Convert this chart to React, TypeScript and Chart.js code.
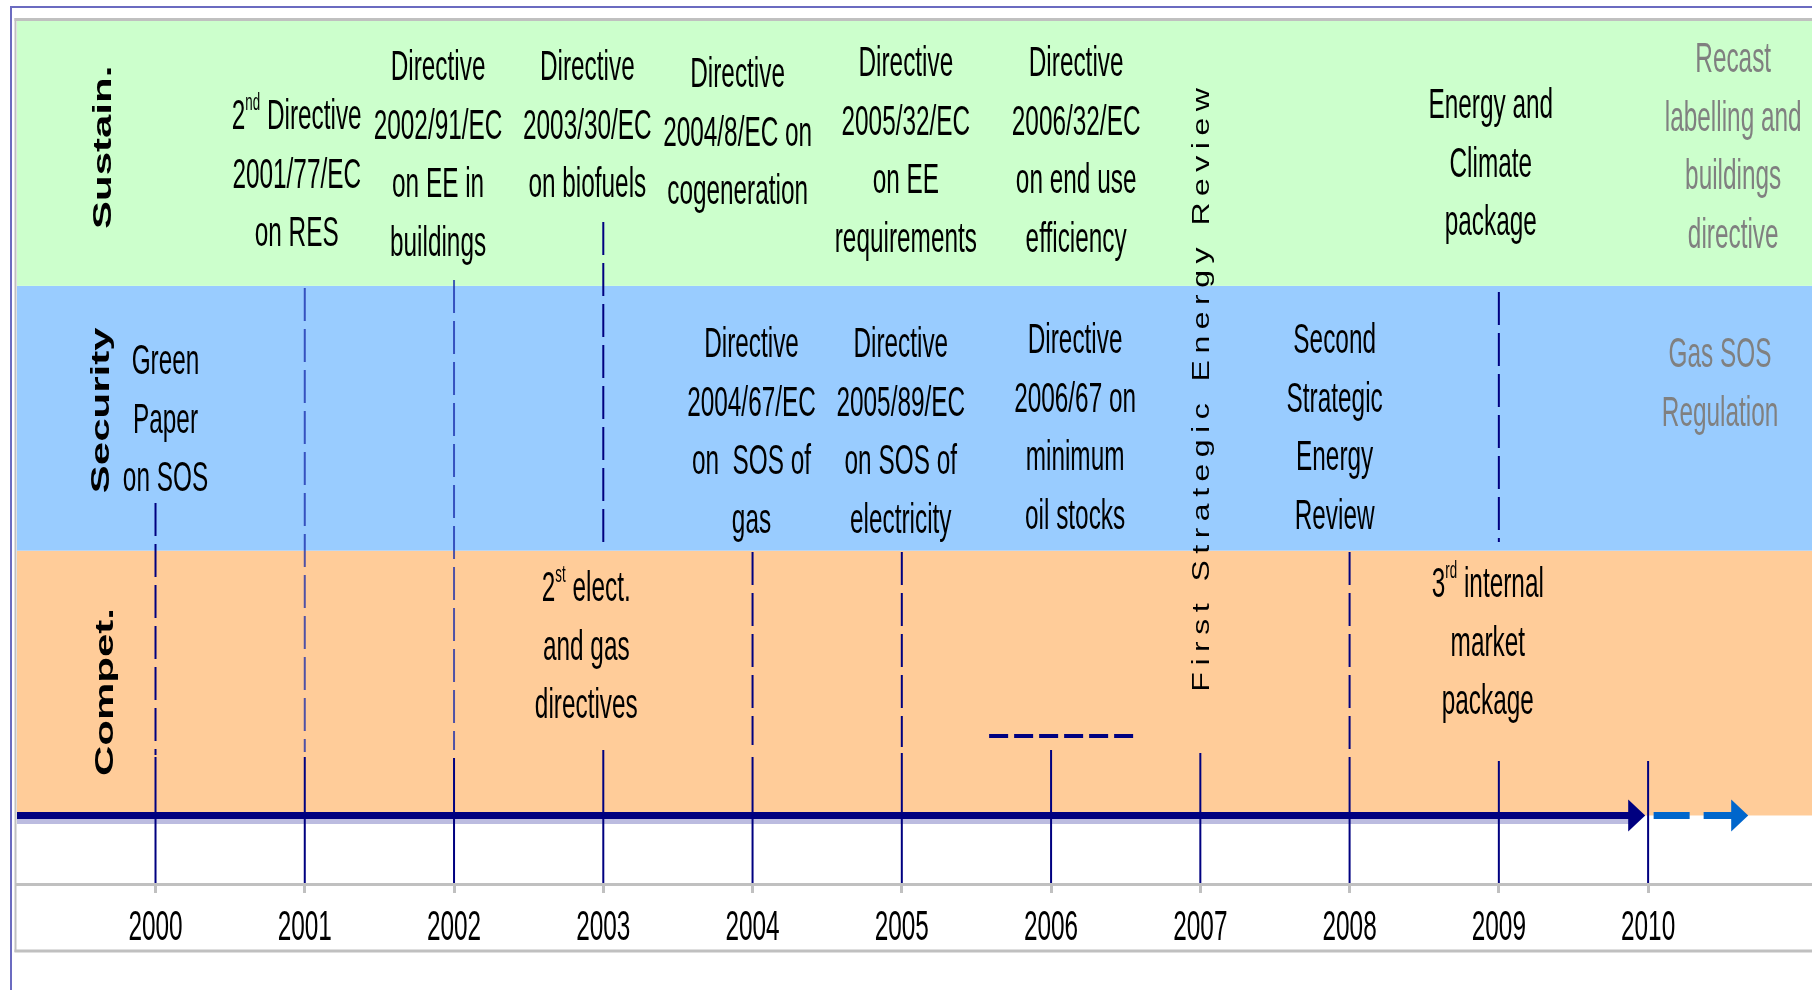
import React, { useEffect, useRef } from "react";
import { Chart, registerables } from "chart.js";

Chart.register(...registerables);

// ---------------- data ----------------
const years = [2000, 2001, 2002, 2003, 2004, 2005, 2006, 2007, 2008, 2009, 2010];
const bandNames = ["Compet.", "Security", "Sustain."]; // bottom to top
const bandColors = ["#ffcc99", "#99ccff", "#ccffcc"];

const sustainYears = [2001, 2002, 2003, 2004, 2005, 2006, 2009, 2010];
const sustainLabels = [
  ["2^{nd} Directive", "2001/77/EC", "on RES"],
  ["Directive", "2002/91/EC", "on EE in", "buildings"],
  ["Directive", "2003/30/EC", "on biofuels"],
  ["Directive", "2004/8/EC on", "cogeneration"],
  ["Directive", "2005/32/EC", "on EE", "requirements"],
  ["Directive", "2006/32/EC", "on end use", "efficiency"],
  ["Energy and", "Climate", "package"],
  ["Recast", "labelling and", "buildings", "directive"],
];
const securityYears = [2000, 2004, 2005, 2006, 2008, 2010];
const securityLabels = [
  ["Green", "Paper", "on SOS"],
  ["Directive", "2004/67/EC", "on  SOS of", "gas"],
  ["Directive", "2005/89/EC", "on SOS of", "electricity"],
  ["Directive", "2006/67 on", "minimum", "oil stocks"],
  ["Second", "Strategic", "Energy", "Review"],
  ["Gas SOS", "Regulation"],
];
const competYears = [2003, 2009];
const competLabels = [
  ["2^{st} elect.", "and gas", "directives"],
  ["3^{rd} internal", "market", "package"],
];
const verticalYear = 2007;
const verticalLabel = "First Strategic Energy Review";
// proposals not yet adopted (drawn in grey)
const plannedLabels = ["Recast", "Gas SOS"];

// event lines: [year, from (band units), to (band units)]
const dashedSegments: [number, number, number][] = [
  [2000, 1.18, 0.228],
  [2001, 1.992, 0.24],
  [2002, 2.022, 0.247],
  [2003, 2.241, 1.016],
  [2004, 0.995, 0.266],
  [2005, 0.995, 0.259],
  [2008, 0.995, 0.228],
  [2009, 1.977, 1.033],
];
const solidSegments: [number, number, number][] = [
  [2000, 0.221, -0.255],
  [2001, 0.221, -0.255],
  [2002, 0.217, -0.255],
  [2003, 0.247, -0.255],
  [2004, 0.221, -0.255],
  [2005, 0.236, -0.255],
  [2006, 0.247, -0.255],
  [2007, 0.236, -0.255],
  [2008, 0.221, -0.255],
  [2009, 0.206, -0.255],
  [2010, 0.206, -0.255],
];
// 2006 bracket: [year, from offset, to offset, level]
const span2006: [number, number, number, number] = [2006, -0.415, 0.563, 0.3];
const axisEnd = 2009.88;
const projection: [number, number] = [2010.037, 2010.57];

// ---------------- layout / style ----------------
const X_MIN = 1999.072;
const X_MAX = 2011.098;
const Y_MIN = -0.2587;
const Y_MAX = 3;
const FONT = '"Liberation Sans", Arial, sans-serif';
const FS = 42;
const SX = 0.58;
const LH = 58.7;
const NAVY = "#000080";

// [x offset from anchor year, first line level]
const sustainPlace = [
  [-0.054, 2.649], [-0.107, 2.834], [-0.107, 2.834], [-0.1, 2.808],
  [0.027, 2.849], [0.168, 2.849], [-0.054, 2.691], [0.57, 2.864],
];
const securityPlace = [
  [0.067, 1.724], [-0.007, 1.788], [-0.007, 1.788], [0.161, 1.803],
  [-0.1, 1.803], [0.482, 1.75],
];
const competPlace = [[-0.114, 0.867], [-0.074, 0.882]];
const bandNamePlace = [[1999.655, 0.466], [1999.628, 1.53], [1999.638, 2.523]];
const verticalPlace = [0, 1.607];
const lightDashYears = [2001, 2002];

function parseRich(s: string) {
  const out: { t: string; sup: boolean }[] = [];
  const re = /\^\{([^}]*)\}/g;
  let last = 0;
  let m: RegExpExecArray | null;
  while ((m = re.exec(s))) {
    if (m.index > last) out.push({ t: s.slice(last, m.index), sup: false });
    out.push({ t: m[1], sup: true });
    last = re.lastIndex;
  }
  if (last < s.length) out.push({ t: s.slice(last), sup: false });
  return out;
}

function drawRich(ctx: CanvasRenderingContext2D, s: string, cx: number, cy: number, color: string) {
  const segs = parseRich(s);
  const main = `${FS}px ${FONT}`;
  const sup = `${Math.round(FS * 0.55)}px ${FONT}`;
  let total = 0;
  const ws = segs.map((g) => {
    ctx.font = g.sup ? sup : main;
    const w = ctx.measureText(g.t).width;
    total += w;
    return w;
  });
  ctx.save();
  ctx.translate(cx, cy + FS * 0.358);
  ctx.scale(SX, 1);
  ctx.fillStyle = color;
  ctx.textAlign = "left";
  ctx.textBaseline = "alphabetic";
  let x = -total / 2;
  segs.forEach((g, i) => {
    ctx.font = g.sup ? sup : main;
    ctx.fillText(g.t, x, g.sup ? -FS * 0.45 : 0);
    x += ws[i];
  });
  ctx.restore();
}

function drawRotated(ctx: CanvasRenderingContext2D, s: string, cx: number, cy: number, font: string, size: number, sx: number, spacing: number) {
  ctx.save();
  ctx.translate(cx, cy);
  ctx.scale(sx, 1);
  ctx.rotate(-Math.PI / 2);
  ctx.font = font;
  (ctx as any).letterSpacing = spacing + "px";
  ctx.fillStyle = "#000";
  ctx.textAlign = "center";
  ctx.textBaseline = "alphabetic";
  ctx.fillText(s, spacing / 2, size * 0.358);
  ctx.restore();
}

const timelinePlugin = {
  id: "timeline",
  beforeDraw(chart: any) {
    const { ctx, chartArea: ca, width, height } = chart;
    const ys = chart.scales.y;
    ctx.save();
    ctx.fillStyle = "#ffffff";
    ctx.fillRect(0, 0, width, height);
    // frame
    ctx.fillStyle = "#6b6bc0";
    ctx.fillRect(10, 6, width - 10, 2);
    ctx.fillRect(10, 6, 2, height - 6);
    ctx.fillStyle = "#c0c0c0";
    ctx.fillRect(14.5, 18, width, 3);
    ctx.fillRect(14.5, 18, 2, 934);
    // bands
    bandColors.forEach((c, i) => {
      const top = ys.getPixelForValue(i + 1);
      const bot = ys.getPixelForValue(i);
      ctx.fillStyle = c;
      ctx.fillRect(ca.left, top, ca.right - ca.left, bot - top);
    });
    ctx.restore();
  },
  beforeDatasetsDraw(chart: any) {
    const { ctx, chartArea: ca } = chart;
    const xs = chart.scales.x;
    const y0 = chart.scales.y.getPixelForValue(0);
    ctx.save();
    ctx.fillStyle = "#bcbce0";
    ctx.fillRect(ca.left, y0 + 3.5, xs.getPixelForValue(axisEnd) - ca.left + 2, 5);
    ctx.restore();
  },
  afterDatasetsDraw(chart: any) {
    const { ctx, chartArea: ca, width } = chart;
    const xs = chart.scales.x;
    const ys = chart.scales.y;
    const y0 = ys.getPixelForValue(0);
    ctx.save();
    // arrow heads
    const head = (base: number, color: string) => {
      const bx = xs.getPixelForValue(base);
      ctx.fillStyle = color;
      ctx.beginPath();
      ctx.moveTo(bx - 2, y0 - 16);
      ctx.lineTo(bx + 15, y0);
      ctx.lineTo(bx - 2, y0 + 16);
      ctx.closePath();
      ctx.fill();
    };
    head(axisEnd, NAVY);
    head(projection[1], "#0066cc");

    // band names
    bandNames.forEach((n, i) => {
      const [bx, by] = bandNamePlace[i];
      drawRotated(ctx, n, xs.getPixelForValue(bx), ys.getPixelForValue(by), `bold ${FS}px ${FONT}`, FS, 0.63, 0);
    });
    // vertical label
    drawRotated(
      ctx,
      verticalLabel,
      xs.getPixelForValue(verticalYear + verticalPlace[0]),
      ys.getPixelForValue(verticalPlace[1]),
      `32px ${FONT}`,
      32,
      0.72,
      6.5
    );

    const groups: [number[], string[][], number[][]][] = [
      [sustainYears, sustainLabels, sustainPlace],
      [securityYears, securityLabels, securityPlace],
      [competYears, competLabels, competPlace],
    ];
    groups.forEach(([yrs, labels, places]) => {
      labels.forEach((lines, i) => {
        const [dx, py] = places[i];
        const cx = xs.getPixelForValue(yrs[i] + dx);
        const cy = ys.getPixelForValue(py);
        const color = plannedLabels.includes(lines[0]) ? "#808080" : "#000000";
        lines.forEach((ln, j) => drawRich(ctx, ln, cx, cy + j * LH, color));
      });
    });

    // year labels
    years.forEach((yr) => drawRich(ctx, String(yr), xs.getPixelForValue(yr), ca.bottom + 41, "#000000"));

    // bottom rule
    ctx.fillStyle = "#c0c0c0";
    ctx.fillRect(14.5, 949.5, width, 3);
    ctx.restore();
  },
};

function lineDs(points: { x: number; y: number }[], color: string, width: number, dash: number[] = []) {
  return {
    type: "line" as const,
    data: points,
    borderColor: color,
    borderWidth: width,
    borderDash: dash,
    borderCapStyle: "butt" as const,
    pointRadius: 0,
    fill: false,
    tension: 0,
  };
}

export default function App() {
  const ref = useRef<HTMLCanvasElement>(null);
  useEffect(() => {
    const datasets: any[] = [];
    dashedSegments.forEach(([yr, a, b]) => {
      const c = lightDashYears.includes(yr) ? "rgba(20,40,170,0.75)" : NAVY;
      datasets.push(lineDs([{ x: yr, y: a }, { x: yr, y: b }], c, 2, [33, 8]));
    });
    solidSegments.forEach(([yr, a, b]) => {
      datasets.push(lineDs([{ x: yr, y: a }, { x: yr, y: b }], NAVY, 2));
    });
    const [sy, s0, s1, sl] = span2006;
    datasets.push(lineDs([{ x: sy + s0, y: sl }, { x: sy + s1, y: sl }], NAVY, 4, [19, 6]));
    datasets.push(lineDs([{ x: X_MIN, y: 0 }, { x: axisEnd, y: 0 }], NAVY, 7));
    datasets.push(lineDs([{ x: projection[0], y: 0 }, { x: projection[1], y: 0 }], "#0066cc", 7, [36, 14]));

    const chart = new Chart(ref.current as HTMLCanvasElement, {
      type: "line",
      data: { datasets },
      options: {
        animation: false,
        responsive: false,
        devicePixelRatio: 1,
        layout: { padding: { left: 17, top: 21, right: 0, bottom: 97 } },
        plugins: { legend: { display: false }, tooltip: { enabled: false } },
        scales: {
          x: {
            type: "linear",
            min: X_MIN,
            max: X_MAX,
            afterBuildTicks: (axis: any) => {
              axis.ticks = years.map((v) => ({ value: v }));
            },
            grid: { drawOnChartArea: false, color: "#c0c0c0", lineWidth: 3, tickLength: 9, drawTicks: true },
            border: { color: "#c0c0c0", width: 3 },
            ticks: { display: false },
          },
          y: { type: "linear", min: Y_MIN, max: Y_MAX, display: false },
        },
      } as any,
      plugins: [timelinePlugin],
    });
    return () => chart.destroy();
  }, []);
  return (
    <div style={{ position: "absolute", left: 0, top: 0, width: 1812, height: 990 }}>
      <canvas ref={ref} width={1812} height={990} style={{ display: "block", width: 1812, height: 990 }} />
    </div>
  );
}
